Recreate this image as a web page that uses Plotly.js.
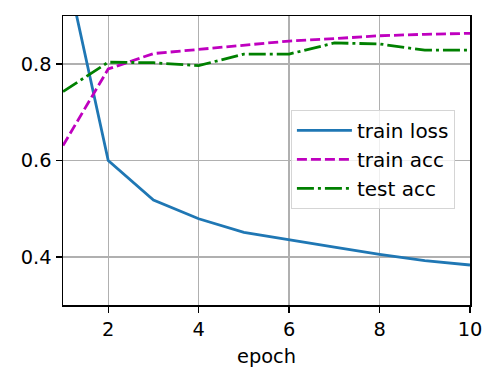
<!DOCTYPE html>
<html>
<head>
<meta charset="utf-8">
<script src="https://cdn.plot.ly/plotly-3.0.1.min.js"></script>
<style>html,body{margin:0;padding:0;background:#fff;}#chart{width:499px;height:383px;}</style>
</head>
<body>
<div id="chart"></div>
<script>
const epochs = [1, 2, 3, 4, 5, 6, 7, 8, 9, 10];
const trainLoss = [1.03, 0.600, 0.518, 0.479, 0.451, 0.435, 0.420, 0.405, 0.392, 0.383];
const trainAcc = [0.631, 0.790, 0.822, 0.831, 0.840, 0.848, 0.853, 0.859, 0.862, 0.864];
const testAcc = [0.743, 0.804, 0.803, 0.797, 0.821, 0.821, 0.844, 0.842, 0.829, 0.829];
const xTicks = [2, 4, 6, 8, 10];
const yTicks = [0.4, 0.6, 0.8];

const font = {family: 'DejaVu Sans, sans-serif', size: 19.4, color: '#000'};
const legendFont = {family: 'DejaVu Sans, sans-serif', size: 20, color: '#000'};

const traces = [
  {x: epochs, y: trainLoss, name: 'train loss', mode: 'lines',
   line: {color: '#1f77b4', width: 2.8}},
  {x: epochs, y: trainAcc, name: 'train acc', mode: 'lines',
   line: {color: '#bf00bf', width: 2.8, dash: '10px,4px'}},
  {x: epochs, y: testAcc, name: 'test acc', mode: 'lines',
   line: {color: '#008000', width: 2.8, dash: '17px,4px,3px,4px'}}
];

const axisCommon = {
  showline: true, linecolor: '#000', linewidth: 1.5, mirror: true,
  showgrid: true, gridcolor: '#b0b0b0', gridwidth: 1.4,
  ticks: 'outside', ticklen: 6, tickwidth: 1.4, tickcolor: '#000',
  zeroline: false, tickfont: font
};

const layout = {
  width: 499, height: 383,
  margin: {l: 63, r: 28.5, t: 15.5, b: 78},
  paper_bgcolor: '#fff', plot_bgcolor: '#fff',
  font: font,
  xaxis: Object.assign({}, axisCommon, {
    range: [1, 10], tickvals: xTicks, ticktext: xTicks.map(String),
    title: {text: 'epoch', font: font, standoff: 9}
  }),
  yaxis: Object.assign({}, axisCommon, {
    range: [0.3, 0.9], tickvals: yTicks, ticktext: yTicks.map(v => v.toFixed(1))
  }),
  showlegend: true,
  legend: {
    x: 0.56, y: 0.675, xanchor: 'left', yanchor: 'top',
    bgcolor: 'rgba(255,255,255,0.8)', bordercolor: '#d5d5d5', borderwidth: 1,
    font: legendFont, tracegroupgap: 0, itemwidth: 55
  }
};

Plotly.newPlot('chart', traces, layout, {staticPlot: true, displayModeBar: false});
</script>
</body>
</html>
